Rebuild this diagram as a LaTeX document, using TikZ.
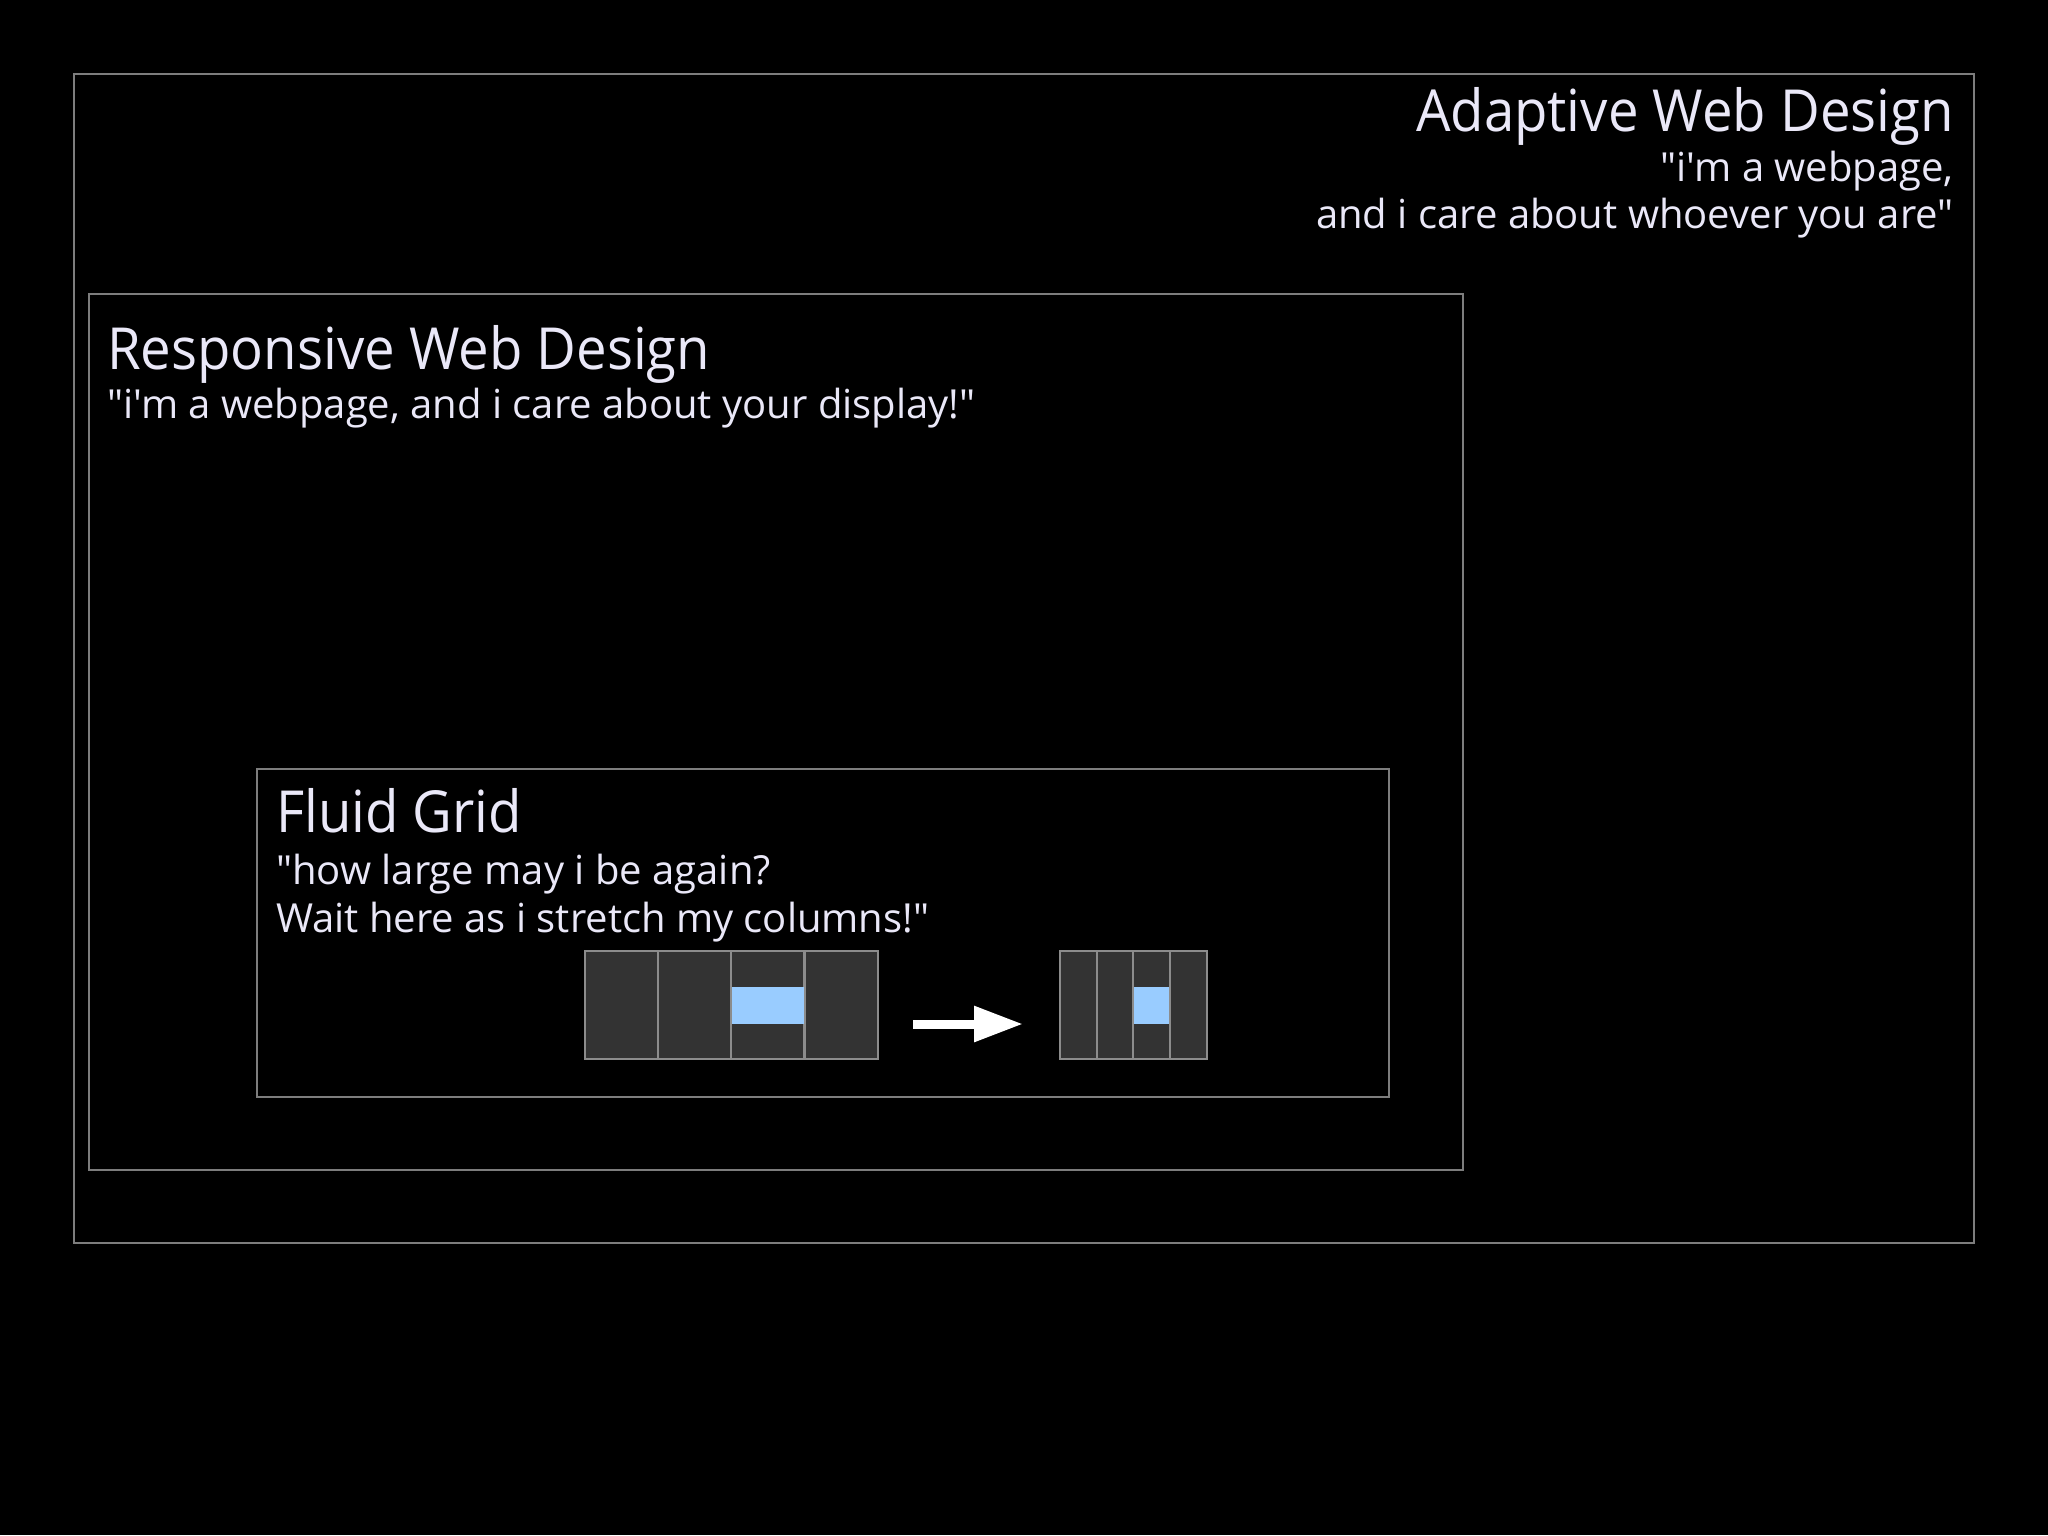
\documentclass[tikz,border=0pt]{standalone}
\usepackage{fontspec}
\newfontfamily\ttlfont{Open Sans}[FakeStretch=0.94]
\newfontfamily\subfont{Open Sans}
\usetikzlibrary{arrows.meta}
\definecolor{txt}{RGB}{234,232,248}
\definecolor{frame}{RGB}{125,125,125}
\definecolor{cell}{RGB}{51,51,51}
\definecolor{cellline}{RGB}{140,140,140}
\definecolor{hl}{RGB}{153,204,255}
\begin{document}
\begin{tikzpicture}[x=1pt,y=-1pt,
  box/.style={draw=frame,line width=1.5pt,inner sep=0pt,anchor=north west},
  ttl/.style={text=txt,inner sep=0pt,font=\ttlfont\fontsize{58}{70}\selectfont},
  sub/.style={text=txt,inner sep=0pt,font=\subfont\fontsize{40}{48}\selectfont},
  col/.style={fill=cell,draw=cellline,line width=1.2pt},
  hlcell/.style={fill=hl}]
\fill[black] (0,0) rectangle (2048,1535);
\useasboundingbox (0,0) rectangle (2048,1535);
% frames
\node[box,minimum width=1900pt,minimum height=1169pt] (adaptive) at (73,73) {};
\node[box,minimum width=1374pt,minimum height=876pt] (responsive) at (88,293) {};
\node[box,minimum width=1132pt,minimum height=328pt] (fluid) at (256,768) {};
% texts
\node[ttl,anchor=base east] (at) at (1954,131) {Adaptive Web Design};
\node[sub,anchor=base east] (as1) at (1954,181) {"i'm a webpage,};
\node[sub,anchor=base east] (as2) at (1954,228) {and i care about whoever you are"};
\node[ttl,anchor=base west] (rt) at (107,369) {Responsive Web Design};
\node[sub,anchor=base west] (rs) at (107,418) {"i'm a webpage, and i care about your display!"};
\node[ttl,anchor=base west] (ft) at (276,832) {Fluid Grid};
\node[sub,anchor=base west] (fs1) at (276,884) {"how large may i be again?};
\node[sub,anchor=base west] (fs2) at (276,932) {Wait here as i stretch my columns!"};
% left grid
\foreach \x in {585,658,731,805}{
  \draw[col] (\x,951) rectangle ++(73,108);
}
\fill[hlcell] (731.8,987) rectangle (804.2,1024);
\node[inner sep=0pt,minimum width=293pt,minimum height=108pt,anchor=north west] (gridA) at (585,951) {};
% right grid
\foreach \x in {1060,1097,1133,1170}{
  \draw[col] (\x,951) rectangle ++(37,108);
}
\fill[hlcell] (1133.8,987) rectangle (1169.2,1024);
\node[inner sep=0pt,minimum width=147pt,minimum height=108pt,anchor=north west] (gridB) at (1060,951) {};
% arrow
\coordinate (a1) at (gridA.east |- 0,1024);
\coordinate (a2) at (gridB.west |- 0,1024);
\draw[white,line width=9pt,-{Triangle[length=49pt,width=34pt]},shorten <=35pt,shorten >=37pt] (a1) -- (a2);
\end{tikzpicture}
\end{document}
